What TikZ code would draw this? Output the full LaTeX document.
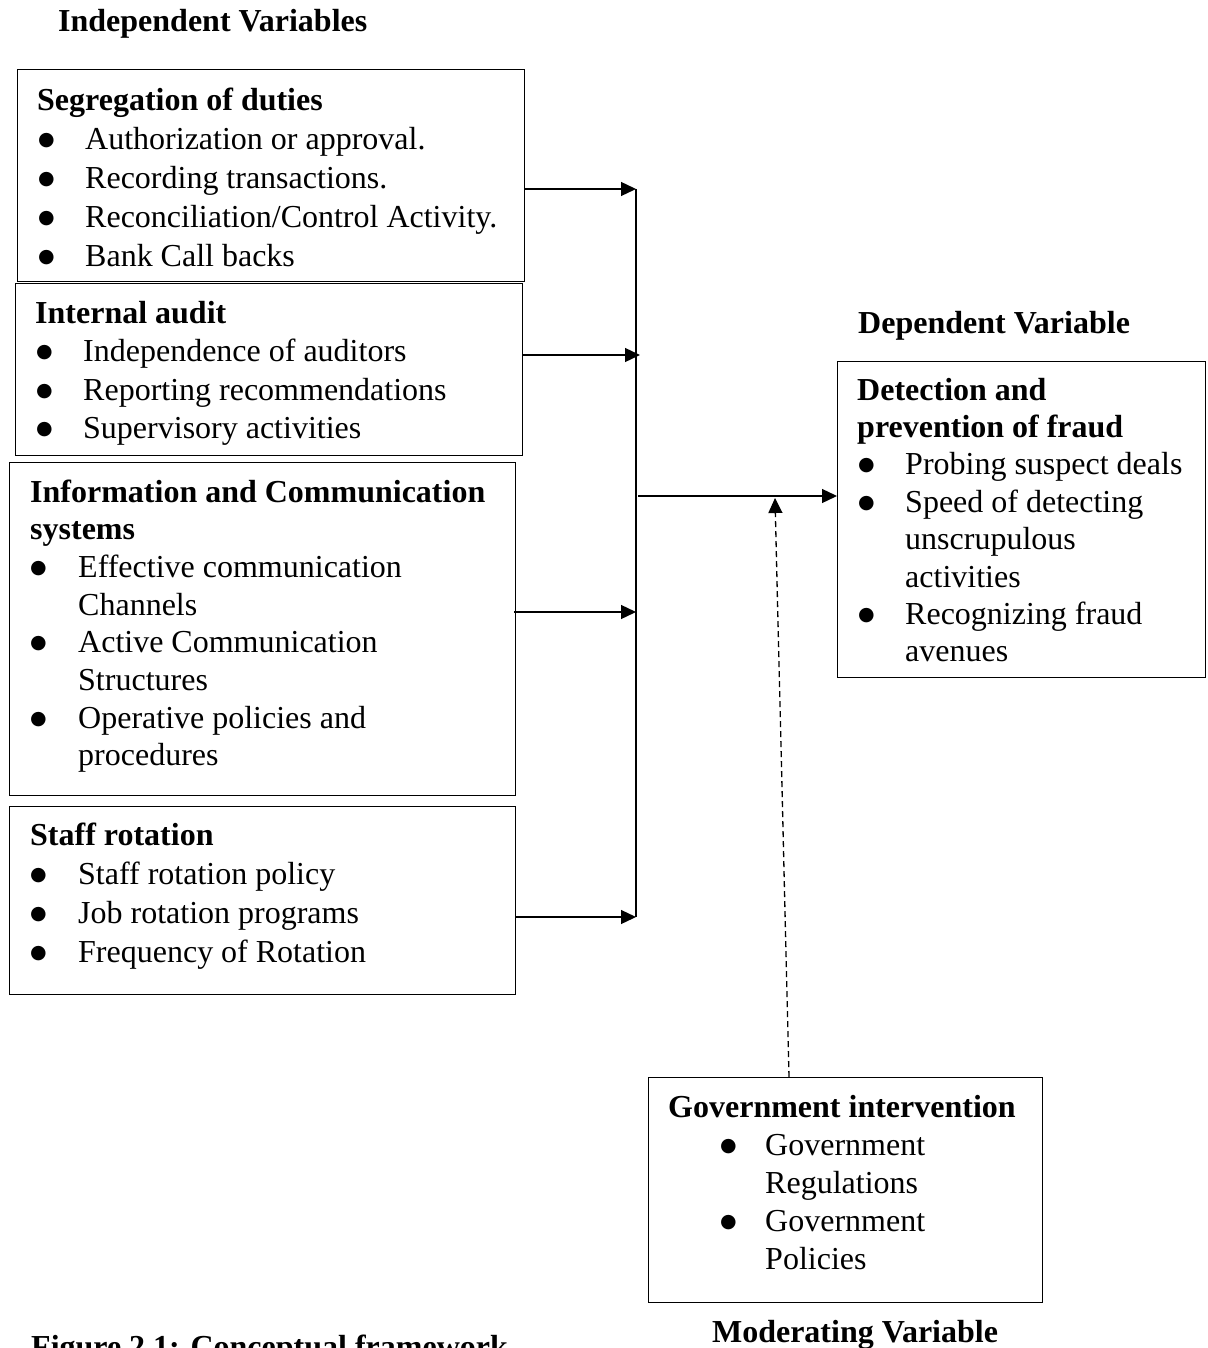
\documentclass[tikz,border=0pt]{standalone}
\usepackage{fontspec}
\setmainfont{Liberation Serif}
\newfontfamily\dejavu{DejaVu Sans}
\usetikzlibrary{arrows.meta}
\newlength\bw \newlength\bo
\newcommand\bigbul{\raisebox{4pt}{\fontsize{19}{20}\selectfont\dejavu ●}}
\newcommand\itm[1]{\makebox[\bw][l]{\hspace{\bo}\bigbul}#1}
\newcommand\cnt[1]{\hspace{\bw}#1}
\begin{document}
\begin{tikzpicture}[x=1pt,y=-1pt,
  box/.style={draw,line width=1.3pt,anchor=north west,inner sep=0pt},
  txt/.style={anchor=base west,inner sep=0pt,align=left},
  head/.style={anchor=base west,inner sep=0pt,font=\fontsize{32}{39}\selectfont\bfseries},
  arr/.style={line width=1.3pt,-{Triangle[length=15pt,width=14pt]}},
  dasharr/.style={line width=1.3pt,dash pattern=on 6pt off 4pt,-{Triangle[length=15pt,width=14pt]}}]
\useasboundingbox (0,0) rectangle (1207,1348);
% boxes
\node[box,minimum width=507pt,minimum height=212pt] (seg) at (17,69) {};
\node[box,minimum width=507pt,minimum height=172pt] (aud) at (15,283) {};
\node[box,minimum width=506pt,minimum height=333pt] (ict) at (9,462) {};
\node[box,minimum width=506pt,minimum height=188pt] (rot) at (9,806) {};
\node[box,minimum width=368pt,minimum height=316pt] (det) at (837,361) {};
\node[box,minimum width=394pt,minimum height=225pt] (gov) at (648,1077) {};
% headings
\node[head] (indep) at (58,32) {Independent Variables};
\node[head] (dep) at (858,333) {Dependent Variable};
\node[head,anchor=base] (mod) at (855,1342) {Moderating Variable};
\node[head] (cap) at (31,1357) {Figure 2.1: Conceptual framework};
% box texts
\node[txt,font=\fontsize{32}{39}\selectfont] (segt) at (37,111) {\setlength\bw{48pt}\setlength\bo{1pt}%
\begin{tabular}[t]{@{}l@{}}\textbf{Segregation of duties}\\
\itm{Authorization or approval.}\\
\itm{Recording transactions.}\\
\itm{Reconciliation/Control Activity.}\\
\itm{Bank Call backs}\end{tabular}};
\node[txt,font=\fontsize{32}{38.5}\selectfont] (audt) at (35,323) {\setlength\bw{48pt}\setlength\bo{1pt}%
\begin{tabular}[t]{@{}l@{}}\textbf{Internal audit}\\
\itm{Independence of auditors}\\
\itm{Reporting recommendations}\\
\itm{Supervisory activities}\end{tabular}};
\node[txt,font=\fontsize{32}{37.7}\selectfont] (ictt) at (30,502) {\setlength\bw{48pt}\setlength\bo{0pt}%
\begin{tabular}[t]{@{}l@{}}\textbf{Information and Communication}\\
\textbf{systems}\\
\itm{Effective communication}\\
\cnt{Channels}\\
\itm{Active Communication}\\
\cnt{Structures}\\
\itm{Operative policies and}\\
\cnt{procedures}\end{tabular}};
\node[txt,font=\fontsize{32}{39}\selectfont] (rott) at (30,845) {\setlength\bw{48pt}\setlength\bo{0pt}%
\begin{tabular}[t]{@{}l@{}}\textbf{Staff rotation}\\
\itm{Staff rotation policy}\\
\itm{Job rotation programs}\\
\itm{Frequency of Rotation}\end{tabular}};
\node[txt,font=\fontsize{32}{37.4}\selectfont] (dett) at (857,400) {\setlength\bw{48pt}\setlength\bo{1pt}%
\begin{tabular}[t]{@{}l@{}}\textbf{Detection and}\\
\textbf{prevention of fraud}\\
\itm{Probing suspect deals}\\
\itm{Speed of detecting}\\
\cnt{unscrupulous}\\
\cnt{activities}\\
\itm{Recognizing fraud}\\
\cnt{avenues}\end{tabular}};
\node[txt,font=\fontsize{32}{38}\selectfont] (govt) at (668,1117) {\setlength\bw{97pt}\setlength\bo{52pt}%
\begin{tabular}[t]{@{}l@{}}\textbf{Government intervention}\\
\itm{Government}\\
\cnt{Regulations}\\
\itm{Government}\\
\cnt{Policies}\end{tabular}};
% bus and connectors
\coordinate (b1) at (636,189);
\coordinate (b2) at (640,355);
\coordinate (b3) at (636,612);
\coordinate (b4) at (636,917);
\coordinate (bm) at (638,496);
\coordinate (tip) at (775,498);
\coordinate (gtop) at (789,1077);
\draw[line width=1.3pt] (b1) -- (b4);
\draw[arr] (seg.east |- b1) -- (b1);
\draw[arr] (aud.east |- b2) -- (b2);
\draw[arr] ([xshift=-2pt]ict.east |- b3) -- (b3);
\draw[arr] (rot.east |- b4) -- (b4);
\draw[arr] (bm) -- (det.west |- bm);
\draw[dasharr] (gtop) -- (tip);
\end{tikzpicture}
\end{document}
